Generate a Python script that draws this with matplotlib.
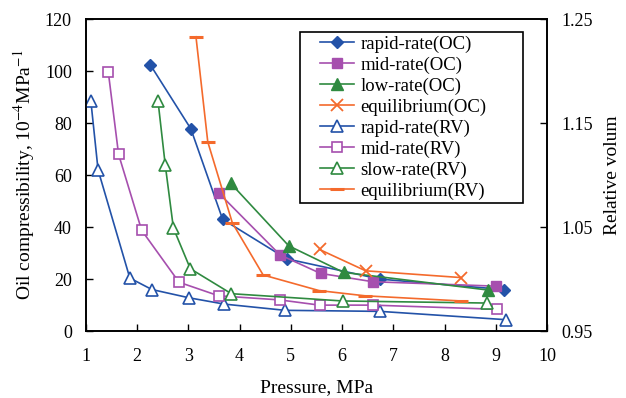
import matplotlib
matplotlib.use("Agg")
import matplotlib.pyplot as plt
from matplotlib.patches import Rectangle

plt.rcParams['font.family'] = ['Liberation Serif', 'DejaVu Serif']
plt.rcParams['mathtext.fontset'] = 'stix'

# OC series (left axis)
rapid_oc_x = [2.26, 3.05, 3.67, 4.92, 6.74, 9.16]
rapid_oc_y = [102.4, 77.8, 43.0, 27.8, 20.0, 16.0]
mid_oc_x = [3.60, 4.79, 5.58, 6.60, 9.00]
mid_oc_y = [53.0, 29.3, 22.2, 19.0, 17.3]
low_oc_x = [3.83, 4.96, 6.03, 8.85]
low_oc_y = [56.8, 32.8, 22.6, 15.8]
eq_oc_x = [5.56, 6.46, 8.32]
eq_oc_y = [31.4, 23.2, 20.6]

# RV series (right axis, relative volume)
rapid_rv_x = [1.10, 1.24, 1.86, 2.29, 3.02, 3.70, 4.89, 6.74, 9.20]
rapid_rv_y = [1.171, 1.105, 1.001, 0.990, 0.982, 0.976, 0.970, 0.969, 0.961]
mid_rv_x = [1.44, 1.64, 2.09, 2.82, 3.59, 4.79, 5.56, 6.60, 9.02]
mid_rv_y = [1.199, 1.120, 1.047, 0.997, 0.984, 0.980, 0.975, 0.975, 0.971]
slow_rv_x = [2.41, 2.55, 2.71, 3.04, 3.84, 6.01, 8.83]
slow_rv_y = [1.171, 1.110, 1.049, 1.010, 0.986, 0.979, 0.977]
eq_rv_x = [3.15, 3.38, 3.86, 4.46, 5.55, 6.44, 8.32]
eq_rv_y = [1.233, 1.132, 1.054, 1.004, 0.989, 0.984, 0.979]

blue = '#2352A8'
purple = '#A64FAE'
green = '#2F8A40'
orange = '#F46A2C'

fig = plt.figure(figsize=(6.26, 3.98), dpi=100)
ax = fig.add_axes([0.137, 0.168, 0.737, 0.784])
ax2 = ax.twinx()

lw = 1.2
h = []
h += ax.plot(rapid_oc_x, rapid_oc_y, color=blue, lw=lw, marker='D', ms=6, label='rapid-rate(OC)')
h += ax.plot(mid_oc_x, mid_oc_y, color=purple, lw=lw, marker='s', ms=7, label='mid-rate(OC)')
h += ax.plot(low_oc_x, low_oc_y, color=green, lw=lw, marker='^', ms=8, label='low-rate(OC)')
h += ax.plot(eq_oc_x, eq_oc_y, color=orange, lw=lw, marker='x', ms=8, mew=1.3, label='equilibrium(OC)')
h += ax2.plot(rapid_rv_x, rapid_rv_y, color=blue, lw=lw, marker='^', ms=8, mfc='white', mew=1.2, label='rapid-rate(RV)')
h += ax2.plot(mid_rv_x, mid_rv_y, color=purple, lw=lw, marker='s', ms=7, mfc='white', mew=1.2, label='mid-rate(RV)')
h += ax2.plot(slow_rv_x, slow_rv_y, color=green, lw=lw, marker='^', ms=8, mfc='white', mew=1.2, label='slow-rate(RV)')
h += ax2.plot(eq_rv_x, eq_rv_y, color=orange, lw=lw, marker='_', ms=10, mew=2.2, label='equilibrium(RV)')

ax.set_xlim(1, 10)
ax.set_ylim(0, 120)
ax2.set_ylim(0.95, 1.25)
ax.set_xticks(range(1, 11))
ax.set_yticks(range(0, 121, 20))
ax2.set_yticks([0.95, 1.05, 1.15, 1.25])
ax2.set_yticklabels(['0.95', '1.05', '1.15', '1.25'])

ax.tick_params(axis='x', direction='in', labelsize=13, length=5, width=1, pad=12)
ax.tick_params(axis='y', direction='in', labelsize=13, length=5, width=1, pad=10)
ax2.tick_params(direction='in', labelsize=13, length=5, width=1, pad=10)
for a in (ax, ax2):
    for s in a.spines.values():
        s.set_linewidth(1.2)

ax.set_xlabel('Pressure, MPa', fontsize=14, labelpad=10)
ax.set_ylabel('Oil compressibility, 10$^{-4}$MPa$^{-1}$', fontsize=14, labelpad=6)
ax2.set_ylabel('Relative volum', fontsize=14, labelpad=8)

# legend box (frame drawn separately, wider than its contents)
box = Rectangle((0.464, 0.410), 0.484, 0.548, transform=ax2.transAxes,
                facecolor='white', edgecolor='black', linewidth=1.2, zorder=4)
ax2.add_patch(box)
leg = ax2.legend(handles=h, loc='upper left', bbox_to_anchor=(0.508, 0.948),
                 borderaxespad=0.0, borderpad=0.0,
                 fontsize=13.5, frameon=False,
                 handlelength=1.8, labelspacing=0.2, handletextpad=0.35)
leg.set_zorder(5)

fig.savefig('out.png', dpi=100)
